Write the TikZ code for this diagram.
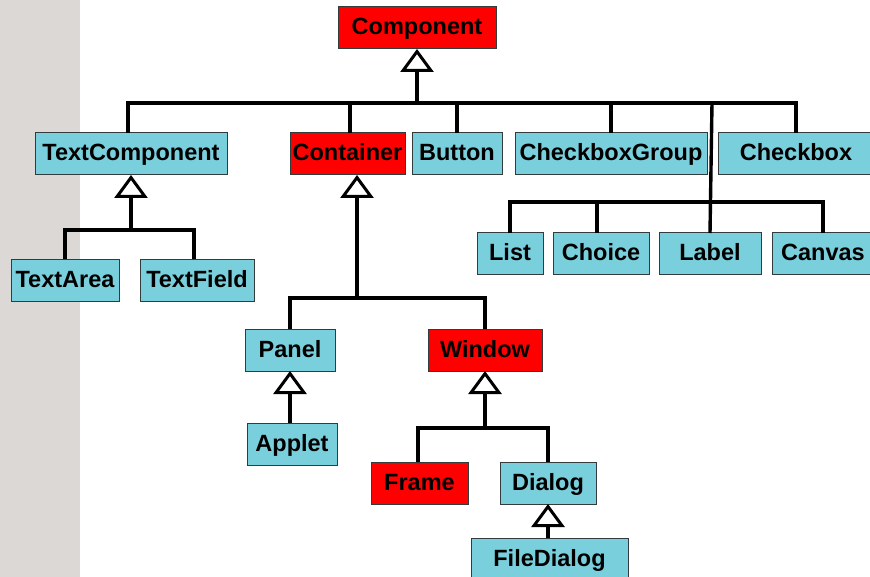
\documentclass[tikz,border=0pt]{standalone}
\usepackage{fontspec}
\setmainfont{Liberation Sans}
\usetikzlibrary{arrows.meta}
\definecolor{boxcyan}{RGB}{121,207,219}
\definecolor{boxred}{RGB}{255,0,0}
\definecolor{boxline}{RGB}{50,60,60}
\definecolor{sideband}{RGB}{220,216,213}
\tikzset{
  cls/.style={draw=boxline, line width=1pt, inner sep=0pt, outer sep=0pt,
    font=\fontsize{23.5}{28}\selectfont\bfseries,
    text height=17pt, text depth=3pt, minimum height=42pt},
  plain/.style={cls, fill=boxcyan},
  core/.style={cls, fill=boxred},
  conn/.style={line width=3.4pt, black},
  inherit/.style={conn, -{Triangle[width=33pt, length=23pt, fill=white, line width=3pt]}},
}
\begin{document}
\begin{tikzpicture}[x=1pt, y=-1pt]
  \useasboundingbox (0,0) rectangle (870,577);
  \clip (0,0) rectangle (870,577);
  \fill[sideband] (0,0) rectangle (80,577);

  % classes
  \node[core,  minimum width=158pt] (comp)   at (417,28)    {Component};
  \node[plain, minimum width=192pt] (tc)     at (131,154)   {TextComponent};
  \node[core,  minimum width=115pt] (cont)   at (347.5,154) {Container};
  \node[plain, minimum width=90pt]  (btn)    at (457,154)   {Button};
  \node[plain, minimum width=192pt] (cbg)    at (611,154)   {CheckboxGroup};
  \node[plain, minimum width=156pt] (cb)     at (796,154)   {Checkbox};
  \node[plain, minimum width=66pt]  (list)   at (510,254)   {List};
  \node[plain, minimum width=96pt]  (choice) at (601,254)   {Choice};
  \node[plain, minimum width=102pt] (label)  at (710,254)   {Label};
  \node[plain, minimum width=102pt] (canvas) at (823,254)   {Canvas};
  \node[plain, minimum width=108pt] (ta)     at (65,280.5)  {TextArea};
  \node[plain, minimum width=114pt] (tf)     at (197,280.5) {TextField};
  \node[plain, minimum width=90pt]  (panel)  at (290,350)   {Panel};
  \node[core,  minimum width=114pt] (window) at (485,350)   {Window};
  \node[plain, minimum width=90pt]  (applet) at (292,444)   {Applet};
  \node[core,  minimum width=97pt]  (frame)  at (419.5,483) {Frame};
  \node[plain, minimum width=96pt]  (dialog) at (548,483)   {Dialog};
  \node[plain, minimum width=157pt] (fd)     at (549.5,559) {FileDialog};

  % bus junctions
  \coordinate (busA) at (417,103);
  \coordinate (busB) at (712,202);
  \coordinate (busC) at (131,230);
  \coordinate (busD) at (357,298);
  \coordinate (busE) at (485,428);

  % Component hierarchy
  \draw[conn] ([xshift=-3pt]tc.north) -- ([xshift=-3pt]tc.north |- busA) -| (cb.north);
  \draw[conn] ([xshift=2.5pt]cont.north) -- ([xshift=2.5pt]cont.north |- busA);
  \draw[conn] (btn.north) -- (btn.north |- busA);
  \draw[conn] (cbg.north) -- (cbg.north |- busA);
  \draw[conn] (busA -| busB) -- (label.north);
  \draw[inherit] (busA) -- (comp.south);

  % second row under the trunk
  \draw[conn] (list.north) -- (list.north |- busB) -| (canvas.north);
  \draw[conn] ([xshift=-4pt]choice.north) -- ([xshift=-4pt]choice.north |- busB);

  % TextComponent
  \draw[conn] (ta.north) -- (ta.north |- busC) -| ([xshift=-3pt]tf.north);
  \draw[inherit] (busC) -- (tc.south);

  % Container
  \draw[conn] (panel.north) -- (panel.north |- busD) -| (window.north);
  \draw[inherit] (busD) -- (cont.south -| busD);

  % Panel / Applet
  \draw[inherit] (applet.north -| panel.south) -- (panel.south);

  % Window
  \draw[conn] ([xshift=-1.5pt]frame.north) -- ([xshift=-1.5pt]frame.north |- busE) -| (dialog.north);
  \draw[inherit] (busE) -- (window.south);

  % Dialog / FileDialog
  \draw[inherit] (fd.north -| dialog.south) -- (dialog.south);
\end{tikzpicture}
\end{document}
